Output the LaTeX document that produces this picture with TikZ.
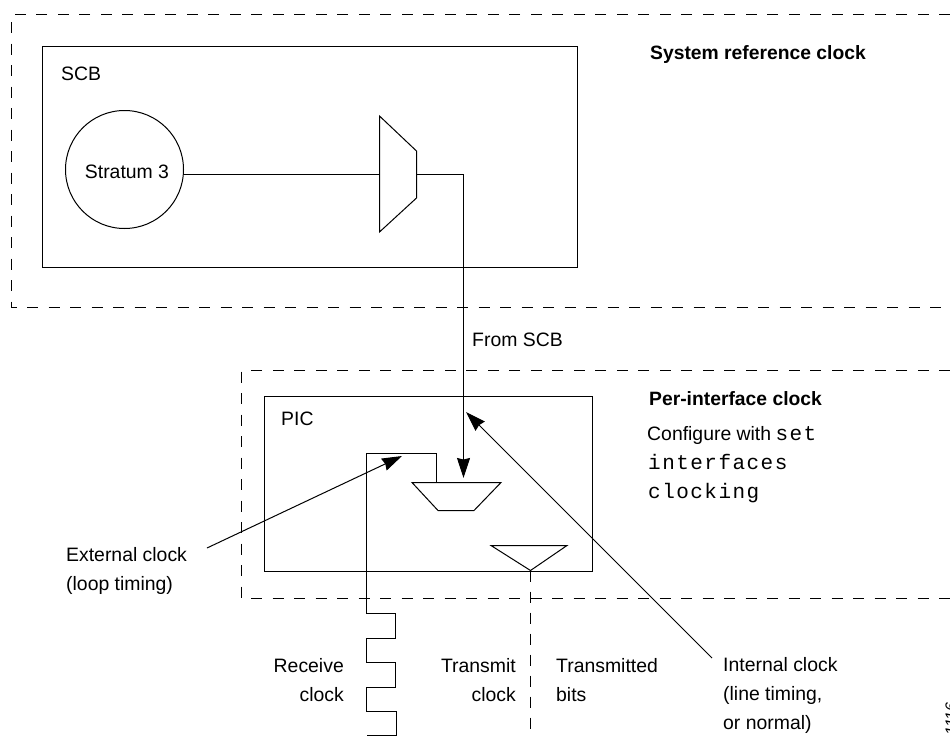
\documentclass[tikz,border=0pt]{standalone}
\usepackage{fontspec}
\setmainfont{Liberation Sans}
\newfontfamily\cmono[LetterSpace=7]{Liberation Mono}
\usetikzlibrary{arrows.meta}
\newcommand{\monotxt}{\fontsize{21}{29}\selectfont\cmono}
\tikzset{
  x=1pt,y=-1pt,
  ln/.style={draw=black,line width=1pt},
  dsh/.style={draw=black,line width=1pt,dash pattern=on 11pt off 10.5pt},
  arr/.style={ln,-{Stealth[length=20pt,width=13pt,inset=1.5pt]}},
  lbl/.style={inner sep=0pt,font=\fontsize{19.4}{29}\selectfont,text=black},
  bold/.style={lbl,font=\fontsize{19.3}{29}\selectfont\bfseries},
  mono/.style={lbl,font=\monotxt},
}
\begin{document}
\begin{tikzpicture}
\useasboundingbox (0,0) rectangle (950,736);
\clip (0,0) rectangle (950,736);
% dashed regions
\draw[dsh] (950,14.5) -- (11.5,14.5) -- (11.5,307.5) -- (950,307.5);
\draw[dsh] (950,370.5) -- (241.5,370.5) -- (241.5,598.5) -- (950,598.5);
% SCB
\node[ln,minimum width=535pt,minimum height=221pt,inner sep=0pt,outer sep=0pt,anchor=north west] (scb) at (42.5,46.5) {};
\node[lbl,anchor=base west] (scbl) at (61,80) {SCB};
\node[ln,circle,minimum size=118pt,inner sep=0pt,outer sep=0pt] (st) at (124.5,169.5) {};
\node[lbl,anchor=base] (stl) at (127,178) {Stratum 3};
\coordinate (muxa) at (379.5,116);
\coordinate (muxb) at (416.5,151);
\coordinate (muxc) at (416.5,198);
\coordinate (muxd) at (379.5,232);
\coordinate (muxin) at (379.5,174.5);
\coordinate (muxout) at (416.5,174.5);
\draw[ln] (muxa) -- (muxb) -- (muxc) -- (muxd) -- cycle;
\draw[ln] (muxin -| st.east) -- (muxin);
% PIC
\node[ln,minimum width=328pt,minimum height=175pt,inner sep=0pt,outer sep=0pt,anchor=north west] (pic) at (264.5,396.5) {};
\node[lbl,anchor=base west] (picl) at (281,425) {PIC};
\coordinate (m2a) at (412,482.5);
\coordinate (m2b) at (501,482.5);
\coordinate (m2c) at (474,510.5);
\coordinate (m2d) at (438,510.5);
\draw[ln] (m2a) -- (m2b) -- (m2c) -- (m2d) -- cycle;
\coordinate (arrtip) at (463.5,478);
\draw[arr] (muxout) -| (arrtip);
% transmit triangle
\coordinate (tra) at (491,545.5);
\coordinate (trb) at (567,545.5);
\coordinate (trc) at (530.5,570.5);
\draw[ln] (tra) -- (trb) -- (trc) -- cycle;
\coordinate (trend) at (530.5,736);
\draw[dsh,dash pattern=on 11pt off 10pt] (trc) -- (trend);
% receive waveform
\coordinate (wstart) at (436.5,482.5);
\coordinate (wend) at (366.5,735.5);
\draw[ln] (wstart) -- (436.5,453.5) -- (366.5,453.5) -- (366.5,613.5) -- (395.5,613.5) -- (395.5,638.5) -- (366.5,638.5) -- (366.5,662.5) -- (395.5,662.5) -- (395.5,687.5) -- (366.5,687.5) -- (366.5,711.5) -- (396.5,711.5) -- (396.5,735.5) -- (wend);
% labels
\node[bold,anchor=base west] (sysl) at (650,59) {System reference clock};
\node[lbl,anchor=base west] (froml) at (472,346) {From SCB};
\node[bold,anchor=base west] (perl) at (649,405) {Per-interface clock};
\node[lbl,anchor=base west] (cfg1) at (647,440) {Configure with {\monotxt\hspace{-1pt}set}};
\node[mono,anchor=base west] (cfg2) at (648,469) {interfaces};
\node[mono,anchor=base west] (cfg3) at (648,498) {clocking};
\node[lbl,anchor=base west,align=left] (ext) at (66,590) {External clock\\(loop timing)};
\coordinate (exttip) at (402,456);
\coordinate (exttail) at (207,548);
\draw[arr] (exttail) -- (exttip);
\node[lbl,anchor=base east,align=right] (rcv) at (344,701) {Receive\\clock};
\node[lbl,anchor=base east,align=right] (tx) at (516,701) {Transmit\\clock};
\node[lbl,anchor=base west,align=left] (txb) at (556,701) {Transmitted\\bits};
\node[lbl,anchor=base west,align=left] (intl) at (723,729) {Internal clock\\(line timing,\\or normal)};
\coordinate (inttip) at (466,412);
\coordinate (inttail) at (712,658);
\draw[arr] (inttail) -- (inttip);
\node[lbl,font=\fontsize{16}{18}\selectfont\itshape,rotate=90,anchor=base east] (code) at (956.5,702) {1116};
\end{tikzpicture}
\end{document}
